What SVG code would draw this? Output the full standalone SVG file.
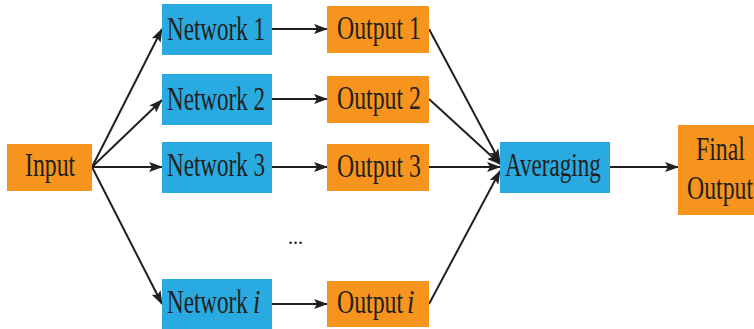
<svg xmlns="http://www.w3.org/2000/svg" width="754" height="329" viewBox="0 0 754 329">
<defs>
<marker id="ah" viewBox="0 0 14 10" refX="13" refY="5" markerWidth="14" markerHeight="10" markerUnits="userSpaceOnUse" orient="auto">
<path d="M0,0 L14,5 L0,10 L3,5 Z" fill="#231F20"/>
</marker>
<style>
.blue{fill:#29AAE1}
.orange{fill:#F7941D}
.t{font-family:"Liberation Serif","DejaVu Serif",serif;font-size:33px;fill:#231F20;text-anchor:start}
.i{font-style:italic}
.c{stroke:#231F20;stroke-width:2;fill:none;marker-end:url(#ah)}
</style>
</defs>
<rect width="754" height="329" fill="#ffffff"/>
<g id="connectors">
<line class="c" x1="92" y1="167" x2="162" y2="29"/>
<line class="c" x1="92" y1="167" x2="162" y2="100"/>
<line class="c" x1="92" y1="167" x2="162" y2="167"/>
<line class="c" x1="92" y1="167" x2="162" y2="304"/>
<line class="c" x1="272" y1="29" x2="327" y2="29"/>
<line class="c" x1="272" y1="99" x2="327" y2="99"/>
<line class="c" x1="272" y1="167" x2="327" y2="167"/>
<line class="c" x1="272" y1="304" x2="327" y2="304"/>
<line class="c" x1="429" y1="29" x2="500" y2="162"/>
<line class="c" x1="429" y1="99" x2="500" y2="164"/>
<line class="c" x1="429" y1="167" x2="500" y2="167"/>
<line class="c" x1="429" y1="304" x2="500" y2="171"/>
<line class="c" x1="610" y1="167" x2="678" y2="167"/>
</g>
<g id="input"><rect class="orange" x="7" y="144" width="85" height="47"/><text class="t" transform="translate(25,176) scale(0.72,1)">Input</text></g>
<g id="network1"><rect class="blue" x="162" y="4" width="110" height="51"/><text class="t" transform="translate(167,40) scale(0.7,1)">Network 1</text></g>
<g id="network2"><rect class="blue" x="162" y="74" width="110" height="51"/><text class="t" transform="translate(167,110) scale(0.7,1)">Network 2</text></g>
<g id="network3"><rect class="blue" x="162" y="142" width="110" height="51"/><text class="t" transform="translate(167,176) scale(0.7,1)">Network 3</text></g>
<g id="networki"><rect class="blue" x="162" y="279" width="110" height="50"/><text class="t" transform="translate(167,313) scale(0.7,1)">Network</text><text class="t i" transform="translate(253,313) scale(0.8,1)">i</text></g>
<g id="output1"><rect class="orange" x="327" y="6" width="102" height="47"/><text class="t" transform="translate(337,39) scale(0.72,1)">Output 1</text></g>
<g id="output2"><rect class="orange" x="327" y="76" width="102" height="47"/><text class="t" transform="translate(337,109) scale(0.72,1)">Output 2</text></g>
<g id="output3"><rect class="orange" x="327" y="144" width="102" height="47"/><text class="t" transform="translate(337,177) scale(0.72,1)">Output 3</text></g>
<g id="outputi"><rect class="orange" x="327" y="281" width="102" height="46"/><text class="t" transform="translate(337,313) scale(0.72,1)">Output</text><text class="t i" transform="translate(407,313) scale(0.8,1)">i</text></g>
<g id="averaging"><rect class="blue" x="500" y="142" width="110" height="51"/><text class="t" transform="translate(505,176) scale(0.7,1)">Averaging</text></g>
<g id="final"><rect class="orange" x="678" y="125" width="76" height="90"/><text class="t" transform="translate(696,160) scale(0.72,1)">Final</text><text class="t" transform="translate(687,199) scale(0.72,1)">Output</text></g>
<text class="t" x="288" y="244" style="font-size:20px">...</text>
</svg>
